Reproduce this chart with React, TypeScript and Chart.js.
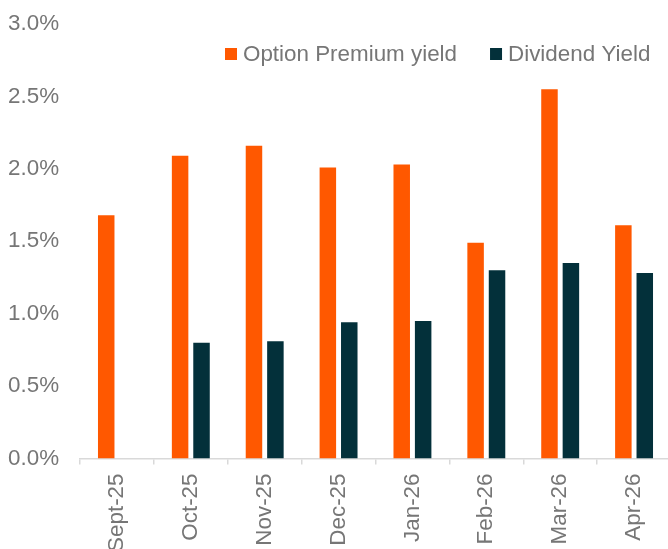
import React, { useEffect, useRef } from 'react';
import { Chart, registerables } from 'chart.js';

Chart.register(...registerables);

const categories = ['Sept-25', 'Oct-25', 'Nov-25', 'Dec-25', 'Jan-26', 'Feb-26', 'Mar-26', 'Apr-26'];
const optionPremiumYield = [1.68, 2.09, 2.16, 2.01, 2.03, 1.49, 2.55, 1.61];
const dividendYield = [null, 0.80, 0.81, 0.94, 0.95, 1.30, 1.35, 1.28];
const seriesLabels = ['Option Premium yield', 'Dividend Yield'];
const yMin = 0;
const yMax = 3;
const yStep = 0.5;

const FONT = '"Liberation Sans", Arial, Helvetica, sans-serif';
const FS = 22.4;
const TEXT = '#767676';
const AXIS = '#d9d9d9';
const ORANGE = '#FF5800';
const DARK = '#03303A';

const legendPlugin = {
  id: 'customLegend',
  afterDraw(chart: any) {
    const ctx = chart.ctx;
    ctx.save();
    ctx.font = `${FS}px ${FONT}`;
    ctx.textBaseline = 'alphabetic';
    ctx.textAlign = 'left';
    let x = 225;
    chart.data.datasets.forEach((ds: any) => {
      ctx.fillStyle = ds.backgroundColor;
      ctx.fillRect(x, 48, 12, 12);
      x += 12 + 6;
      ctx.fillStyle = TEXT;
      ctx.fillText(ds.label, x, 60.5);
      x += ctx.measureText(ds.label).width + 33;
    });
    ctx.restore();
  },
};

export default function App() {
  const ref = useRef<HTMLCanvasElement>(null);

  useEffect(() => {
    if (!ref.current) return;
    const chart = new Chart(ref.current, {
      type: 'bar',
      data: {
        labels: categories,
        datasets: [
          {
            label: seriesLabels[0],
            data: optionPremiumYield,
            backgroundColor: ORANGE,
            categoryPercentage: 0.58,
            barPercentage: 0.77,
          },
          {
            label: seriesLabels[1],
            data: dividendYield as any,
            backgroundColor: DARK,
            categoryPercentage: 0.58,
            barPercentage: 0.77,
          },
        ],
      },
      options: {
        responsive: false,
        animation: false,
        layout: { padding: { left: 8, top: 24, right: 1, bottom: 0 } },
        plugins: {
          legend: { display: false },
          tooltip: { enabled: false },
        },
        scales: {
          x: {
            offset: true,
            grid: {
              display: true,
              drawOnChartArea: false,
              drawTicks: true,
              tickLength: 6,
              color: AXIS,
              lineWidth: 1.5,
              offset: true,
            },
            border: { display: true, color: AXIS, width: 1.5 },
            ticks: {
              minRotation: 90,
              maxRotation: 90,
              autoSkip: false,
              padding: 9,
              color: TEXT,
              font: { size: FS, family: FONT },
            },
            afterFit: (s: any) => {
              s.height = 101.5;
            },
          },
          y: {
            min: yMin,
            max: yMax,
            grid: { display: false },
            border: { display: false },
            ticks: {
              stepSize: yStep,
              crossAlign: 'far',
              color: TEXT,
              font: { size: FS, family: FONT },
              callback: (v: any) => Number(v).toFixed(1) + '%',
            },
            afterFit: (s: any) => {
              s.width = 72;
            },
          },
        },
      },
      plugins: [legendPlugin],
    });
    return () => chart.destroy();
  }, []);

  return (
    <div style={{ position: 'fixed', left: 0, top: 0, width: 672, height: 560, background: '#fff' }}>
      <canvas ref={ref} width={672} height={560} style={{ width: 672, height: 560, display: 'block' }} />
    </div>
  );
}
